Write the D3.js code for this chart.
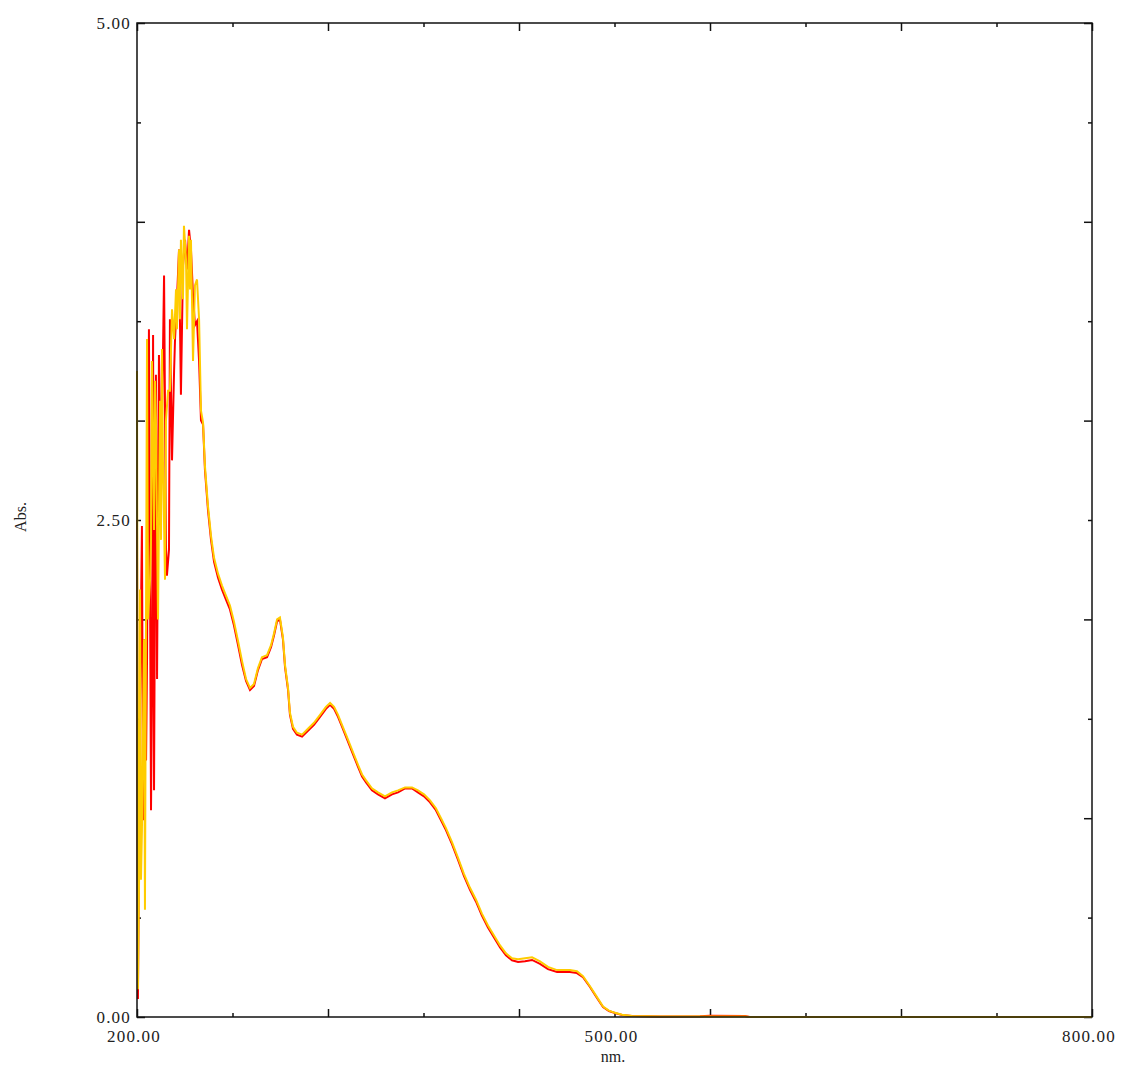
<!DOCTYPE html>
<html lang="en">
<head>
<meta charset="UTF-8">
<script src="https://d3js.org/d3.v7.min.js"></script>
<title>Abs. spectrum</title>
<style>
  body { margin: 0; background: #fff; }
  text { font-family: "Liberation Serif", "DejaVu Serif", serif; fill: #222; }
</style>
</head>
<body>
<script>
// noisy region, 200-240 nm
const redNoiseNm = [200.0, 200.6, 201.9, 203.1, 203.8, 204.4, 205.7, 206.3, 207.5, 208.8, 209.4, 210.1, 210.7, 211.9, 212.6, 213.8, 215.1, 216.3, 217.0, 218.2, 218.8, 220.1, 220.7, 222.0, 223.3, 223.9, 225.1, 226.4, 227.6, 228.9, 230.2, 231.4, 232.7, 233.9, 235.2, 236.4, 237.7, 239.0, 240.2];
const redNoiseAbs = [2.50, 0.09, 1.59, 2.47, 0.99, 1.90, 1.29, 1.80, 3.46, 1.04, 1.64, 3.43, 1.14, 3.23, 1.70, 3.33, 2.70, 3.33, 3.73, 2.37, 2.22, 2.35, 3.51, 2.80, 3.25, 3.41, 3.61, 3.86, 3.13, 3.78, 3.91, 3.76, 3.96, 3.86, 3.63, 3.48, 3.50, 3.30, 3.00];
const yellowNoiseNm = [200.0, 200.6, 201.3, 201.9, 202.5, 203.1, 204.4, 205.0, 206.3, 206.9, 208.2, 208.8, 209.4, 210.7, 211.3, 211.9, 213.2, 214.5, 215.1, 215.7, 216.3, 217.6, 218.2, 219.5, 220.7, 222.0, 223.3, 224.5, 225.1, 226.4, 227.0, 227.6, 228.9, 229.5, 230.8, 231.4, 232.7, 233.3, 233.9, 235.2, 236.4, 237.7, 239.0, 240.2];
const yellowNoiseAbs = [3.25, 0.14, 0.69, 2.15, 0.69, 0.94, 1.90, 0.54, 3.41, 2.00, 2.20, 2.40, 3.30, 2.45, 3.20, 3.00, 2.00, 3.10, 2.40, 3.36, 2.80, 2.20, 3.00, 3.15, 3.15, 3.56, 3.41, 3.66, 3.46, 3.86, 3.51, 3.91, 3.61, 3.98, 3.81, 3.46, 3.93, 3.66, 3.91, 3.30, 3.68, 3.71, 3.51, 3.05];

// smooth region, 241-800 nm
const smoothNm = [241.5, 242.7, 244.6, 246.5, 248.4, 250.9, 253.4, 255.9, 258.4, 260.9, 263.5, 266.0, 268.5, 271.0, 273.5, 276.0, 278.5, 281.7, 284.2, 286.1, 288.0, 289.8, 291.7, 293.0, 294.9, 296.1, 298.0, 300.5, 303.7, 307.4, 311.2, 315.0, 318.7, 321.3, 323.8, 326.3, 328.8, 331.3, 333.8, 336.3, 338.8, 341.4, 343.9, 347.6, 351.4, 355.8, 360.2, 364.0, 368.4, 372.8, 376.5, 380.3, 384.1, 387.8, 391.0, 394.1, 397.9, 401.7, 405.4, 409.2, 413.0, 416.7, 420.5, 424.3, 428.1, 431.8, 435.6, 439.4, 443.8, 448.2, 453.2, 458.2, 463.9, 472.0, 476.4, 480.2, 484.6, 489.0, 492.8, 496.5, 500.3, 504.7, 511.0, 528.6, 553.7, 560.0, 582.0, 585.0, 800.0];
const smoothAbsRed = [2.98, 2.75, 2.55, 2.40, 2.29, 2.21, 2.15, 2.10, 2.05, 1.97, 1.87, 1.77, 1.69, 1.645, 1.665, 1.745, 1.80, 1.81, 1.86, 1.92, 1.99, 2.00, 1.90, 1.76, 1.645, 1.52, 1.45, 1.42, 1.41, 1.44, 1.47, 1.51, 1.55, 1.57, 1.55, 1.51, 1.46, 1.41, 1.36, 1.31, 1.26, 1.21, 1.18, 1.14, 1.12, 1.10, 1.12, 1.13, 1.15, 1.15, 1.13, 1.11, 1.08, 1.04, 0.99, 0.94, 0.87, 0.79, 0.71, 0.64, 0.58, 0.51, 0.45, 0.40, 0.35, 0.31, 0.285, 0.277, 0.28, 0.287, 0.267, 0.241, 0.226, 0.226, 0.221, 0.20, 0.151, 0.096, 0.05, 0.03, 0.02, 0.01, 0.005, 0.003, 0.004, 0.006, 0.005, 0.0, 0.0];
const smoothAbsYellow = [2.99, 2.77, 2.57, 2.42, 2.31, 2.23, 2.17, 2.12, 2.07, 1.99, 1.89, 1.79, 1.70, 1.655, 1.675, 1.755, 1.81, 1.82, 1.87, 1.93, 2.00, 2.01, 1.91, 1.77, 1.655, 1.53, 1.46, 1.43, 1.42, 1.45, 1.48, 1.52, 1.56, 1.58, 1.56, 1.52, 1.47, 1.42, 1.37, 1.32, 1.27, 1.22, 1.19, 1.15, 1.13, 1.11, 1.13, 1.14, 1.155, 1.155, 1.14, 1.12, 1.09, 1.05, 1.00, 0.95, 0.88, 0.80, 0.72, 0.65, 0.59, 0.52, 0.46, 0.41, 0.36, 0.32, 0.295, 0.29, 0.295, 0.30, 0.28, 0.252, 0.236, 0.236, 0.23, 0.205, 0.155, 0.10, 0.053, 0.032, 0.021, 0.011, 0.005, 0.003, 0.002, 0.002, 0.002, 0.0, 0.0];

const xMajor = [200, 320, 440, 560, 680, 800];
const xMinor = [260, 380, 500, 620, 740];
const xLabels = [200, 500, 800];
const yMajor = [0, 1, 2, 3, 4, 5];
const yMinor = [0.5, 1.5, 2.5, 3.5, 4.5];
const yLabels = [0, 2.5, 5];

const W = 1123, H = 1066;
const pLeft = 137, pRight = 1092, pTop = 23, pBottom = 1017;

const svg = d3.select('body').append('svg')
    .attr('width', W)
    .attr('height', H);

const x = d3.scaleLinear().domain([200, 800]).range([pLeft, pRight]);
const y = d3.scaleLinear().domain([0, 5]).range([pBottom, pTop]);

const fmt = d3.format('.2f');

// tick marks on all four sides, pointing inward
function ticks(axisFn, scale, values, size, tx, ty) {
    const g = svg.append('g')
        .attr('transform', `translate(${tx}, ${ty})`)
        .call(axisFn(scale).tickValues(values).tickSize(size).tickFormat(''));
    g.select('.domain').remove();
    g.selectAll('line').attr('stroke', '#111').attr('stroke-width', 1.5);
}
ticks(d3.axisBottom, x, xMajor, -8, 0, pBottom);
ticks(d3.axisBottom, x, xMinor, -4, 0, pBottom);
ticks(d3.axisTop, x, xMajor, -8, 0, pTop);
ticks(d3.axisTop, x, xMinor, -4, 0, pTop);
ticks(d3.axisLeft, y, yMajor, -8, pLeft, 0);
ticks(d3.axisLeft, y, yMinor, -4, pLeft, 0);
ticks(d3.axisRight, y, yMajor, -8, pRight, 0);
ticks(d3.axisRight, y, yMinor, -4, pRight, 0);

// tick labels
svg.append('g').selectAll('text')
    .data(xLabels)
    .enter()
    .append('text')
    .attr('x', d => x(d) - 3)
    .attr('y', pBottom + 25)
    .attr('text-anchor', 'middle')
    .attr('font-size', '17px')
    .attr('letter-spacing', '1.2px')
    .text(d => fmt(d));

svg.append('g').selectAll('text')
    .data(yLabels)
    .enter()
    .append('text')
    .attr('x', pLeft - 6)
    .attr('y', d => y(d) + 6)
    .attr('text-anchor', 'end')
    .attr('font-size', '17px')
    .attr('letter-spacing', '1.2px')
    .text(d => fmt(d));

// axis titles
svg.append('text')
    .attr('x', 613)
    .attr('y', 1062)
    .attr('text-anchor', 'middle')
    .attr('font-size', '16px')
    .text('nm.');

svg.append('text')
    .attr('transform', 'translate(26, 517) rotate(-90)')
    .attr('text-anchor', 'middle')
    .attr('font-size', '16px')
    .text('Abs.');

// spectra
const line = d3.line()
    .x(d => x(d[0]))
    .y(d => y(d[1]));

const redData = redNoiseNm.map((n, i) => [n, redNoiseAbs[i]])
    .concat(smoothNm.map((n, i) => [n, smoothAbsRed[i]]));
const yellowData = yellowNoiseNm.map((n, i) => [n, yellowNoiseAbs[i]])
    .concat(smoothNm.map((n, i) => [n, smoothAbsYellow[i]]));

svg.append('path')
    .datum(redData)
    .attr('fill', 'none')
    .attr('stroke', '#ff0000')
    .attr('stroke-width', 2)
    .attr('d', line);

svg.append('path')
    .datum(yellowData)
    .attr('fill', 'none')
    .attr('stroke', '#ffcc00')
    .attr('stroke-width', 2)
    .attr('d', line);

// frame
svg.append('rect')
    .attr('x', pLeft)
    .attr('y', pTop)
    .attr('width', pRight - pLeft)
    .attr('height', pBottom - pTop)
    .attr('fill', 'none')
    .attr('stroke', '#111')
    .attr('stroke-width', 1.5);
</script>
</body>
</html>
